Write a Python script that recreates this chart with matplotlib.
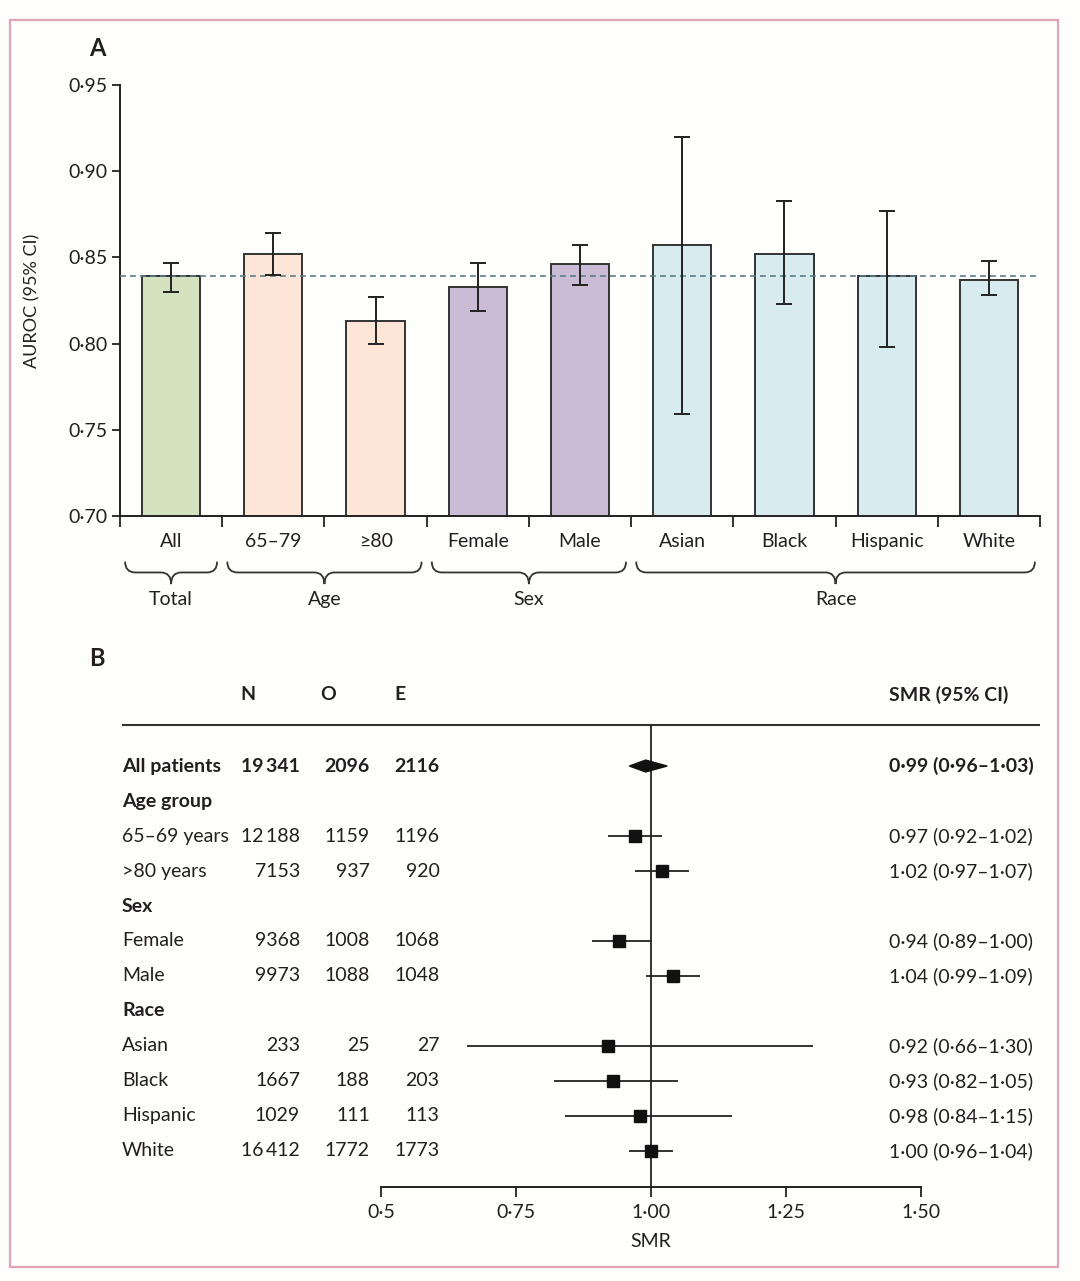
import numpy as np
import matplotlib
matplotlib.use('Agg')
import matplotlib.pyplot as plt
from matplotlib.path import Path
from matplotlib.patches import PathPatch, Rectangle
import matplotlib.transforms as mtransforms

plt.rcParams['font.family'] = ['Lato', 'DejaVu Sans']
ink = '#231f20'

# panel A data
categories = ['All', '65–79', '≥80', 'Female', 'Male', 'Asian', 'Black', 'Hispanic', 'White']
auroc = np.array([0.839, 0.852, 0.813, 0.833, 0.846, 0.857, 0.852, 0.839, 0.837])
auroc_lo = np.array([0.830, 0.840, 0.800, 0.819, 0.834, 0.759, 0.823, 0.798, 0.828])
auroc_hi = np.array([0.847, 0.864, 0.827, 0.847, 0.857, 0.920, 0.883, 0.877, 0.848])
overall = 0.839
groups = ['Total', 'Age', 'Sex', 'Race']
group_start = [0, 1, 3, 5]
group_end = [0, 2, 4, 8]
group_colors = ['#d4e2c0', '#fde6d8', '#cbbcd6', '#d8ecef']

# panel B data
row_labels = ['All patients', 'Age group', '65–69 years', '>80 years', 'Sex', 'Female',
              'Male', 'Race', 'Asian', 'Black', 'Hispanic', 'White']
row_bold = [True, True, False, False, True, False, False, True, False, False, False, False]
n_vals = [19341, None, 12188, 7153, None, 9368, 9973, None, 233, 1667, 1029, 16412]
o_vals = [2096, None, 1159, 937, None, 1008, 1088, None, 25, 188, 111, 1772]
e_vals = [2116, None, 1196, 920, None, 1068, 1048, None, 27, 203, 113, 1773]
smr = [0.99, None, 0.97, 1.02, None, 0.94, 1.04, None, 0.92, 0.93, 0.98, 1.00]
smr_lo = [0.96, None, 0.92, 0.97, None, 0.89, 0.99, None, 0.66, 0.82, 0.84, 0.96]
smr_hi = [1.03, None, 1.02, 1.07, None, 1.00, 1.09, None, 1.30, 1.05, 1.15, 1.04]


def dot(s):
    return s.replace('.', '·')


def fmt_int(v):
    if v is None:
        return ''
    if v >= 10000:
        return f'{v:,}'.replace(',', '\u2009')
    return str(v)


W, H = 1080, 1281
fig = plt.figure(figsize=(10.8, 12.81), dpi=100, facecolor='#fefefd')
fig.patches.append(Rectangle((10 / W, 1 - 1267 / H), 1048 / W, 1247 / H, transform=fig.transFigure,
                             fill=False, edgecolor='#e2a3b3', lw=1.6))

# ---------------- panel A ----------------
ax = fig.add_axes([120 / W, 1 - 516 / H, 920 / W, 431 / H])
ax.set_facecolor('none')
x = np.arange(len(categories))
colors = []
for g, (s, e) in enumerate(zip(group_start, group_end)):
    colors += [group_colors[g]] * (e - s + 1)
ax.bar(x, auroc, width=0.57, color=colors, edgecolor='#333333', linewidth=1.4, zorder=2)
ax.errorbar(x, auroc, yerr=[auroc - auroc_lo, auroc_hi - auroc], fmt='none', ecolor='#222222',
            elinewidth=1.4, capsize=5.5, capthick=1.4, zorder=4)
ax.axhline(overall, color='#5b7c84', ls=(0, (3.5, 2.5)), lw=1.2, zorder=3)
ax.set_xlim(-0.5, 8.5)
ax.set_ylim(0.70, 0.95)
ax.spines['top'].set_visible(False)
ax.spines['right'].set_visible(False)
for sp in ['left', 'bottom']:
    ax.spines[sp].set_linewidth(1.4)
    ax.spines[sp].set_color('#222222')
yt = np.arange(0.70, 0.951, 0.05)
ax.set_yticks(yt, [dot(f'{v:.2f}') for v in yt])
ax.tick_params(axis='y', direction='out', length=6, width=1.3, labelsize=14, colors='#222222',
               labelcolor=ink, pad=3)
ax.set_xticks(np.arange(-0.5, 9, 1))
ax.set_xticklabels([])
ax.tick_params(axis='x', which='major', direction='out', length=8, width=1.3, color='#222222')
ax.set_xticks(x, categories, minor=True)
ax.tick_params(axis='x', which='minor', length=0, labelsize=14, labelcolor=ink, pad=22)
for lab in ax.get_xticklabels(minor=True):
    lab.set_verticalalignment('baseline')
ax.set_ylabel('AUROC (95% CI)', fontsize=13, color=ink)
ax.yaxis.set_label_coords(-80 / 920, 0.5)

trans = mtransforms.blended_transform_factory(ax.transData, ax.transAxes)
yt0, ym, ytip = -0.106, -0.131, -0.158
for name, s, e in zip(groups, group_start, group_end):
    x0, x1 = s - 0.45, e + 0.45
    xc = (x0 + x1) / 2
    d = 0.1
    verts = [(x0, yt0), (x0, ym), (x0 + d, ym), (xc - d, ym), (xc, ym), (xc, ytip),
             (xc, ym), (xc + d, ym), (x1 - d, ym), (x1, ym), (x1, yt0)]
    codes = [Path.MOVETO, Path.CURVE3, Path.CURVE3, Path.LINETO, Path.CURVE3, Path.CURVE3,
             Path.CURVE3, Path.CURVE3, Path.LINETO, Path.CURVE3, Path.CURVE3]
    ax.add_patch(PathPatch(Path(verts, codes), transform=trans, fill=False, edgecolor='#333333',
                           lw=1.3, clip_on=False))
    ax.text(xc, -0.193, name, transform=trans, ha='center', va='center', fontsize=14, color=ink)

fig.text(97 / W, 1 - 48 / H, 'A', fontsize=17, fontweight='bold', ha='center', va='center', color=ink)
fig.text(97 / W, 1 - 658 / H, 'B', fontsize=17, fontweight='bold', ha='center', va='center', color=ink)

# ---------------- panel B ----------------
bx = fig.add_axes([122 / W, 1 - 1187 / H, 918 / W, 527 / H])
bx.set_facecolor('none')
bx.set_xlim(1 + (122 - 651) / 540, 1 + (1040 - 651) / 540)
bx.set_ylim(12.03, -3.03)
for sp in ['top', 'right', 'left']:
    bx.spines[sp].set_visible(False)
bx.spines['bottom'].set_bounds(0.5, 1.5)
bx.spines['bottom'].set_linewidth(1.4)
bx.spines['bottom'].set_color('#222222')
bx.set_yticks([])
xt = [0.5, 0.75, 1.0, 1.25, 1.5]
bx.set_xticks(xt, ['0·5', '0·75', '1·00', '1·25', '1·50'])
bx.tick_params(axis='x', direction='out', length=7, width=1.3, labelsize=14, labelcolor=ink,
               color='#222222', pad=5)
bx.set_xlabel('SMR', fontsize=14, color=ink)
bx.xaxis.set_label_coords((651 - 122) / 918, -0.088)

line_y = -1.17
bx.axhline(line_y, color='#333333', lw=1.5)
bx.vlines(1.0, line_y, 12.03, color='#222222', lw=1.3)

tb = mtransforms.blended_transform_factory(bx.transAxes, bx.transData)
head_y = -2.03
bx.text(0.137, head_y, 'N', transform=tb, ha='center', va='center', fontsize=14, fontweight='bold', color=ink)
bx.text(0.224, head_y, 'O', transform=tb, ha='center', va='center', fontsize=14, fontweight='bold', color=ink)
bx.text(0.303, head_y, 'E', transform=tb, ha='center', va='center', fontsize=14, fontweight='bold', color=ink)
bx.text(0.836, head_y, 'SMR (95% CI)', transform=tb, ha='left', va='center', fontsize=14,
        fontweight='bold', color=ink)

for r, lab in enumerate(row_labels):
    w = 'bold' if row_bold[r] else 'normal'
    bx.text(0.0, r, lab, transform=tb, ha='left', va='center', fontsize=14, fontweight=w, color=ink)
    bx.text(0.194, r, fmt_int(n_vals[r]), transform=tb, ha='right', va='center', fontsize=14, fontweight=w, color=ink)
    bx.text(0.270, r, fmt_int(o_vals[r]), transform=tb, ha='right', va='center', fontsize=14, fontweight=w, color=ink)
    bx.text(0.346, r, fmt_int(e_vals[r]), transform=tb, ha='right', va='center', fontsize=14, fontweight=w, color=ink)
    if smr[r] is None:
        continue
    txt = dot(f'{smr[r]:.2f} ({smr_lo[r]:.2f}–{smr_hi[r]:.2f})')
    bx.text(0.836, r, txt, transform=tb, ha='left', va='center', fontsize=14, fontweight=w, color=ink)
    if r == 0:
        h = 0.17
        bx.fill([smr_lo[r], smr[r], smr_hi[r], smr[r]], [r, r - h, r, r + h], color='#111111', zorder=4)
    else:
        bx.hlines(r, smr_lo[r], smr_hi[r], color='#222222', lw=1.3, zorder=3)
        bx.plot(smr[r], r, 's', color='#111111', markersize=9, zorder=4)

fig.savefig('out.png', dpi=100, facecolor=fig.get_facecolor())
